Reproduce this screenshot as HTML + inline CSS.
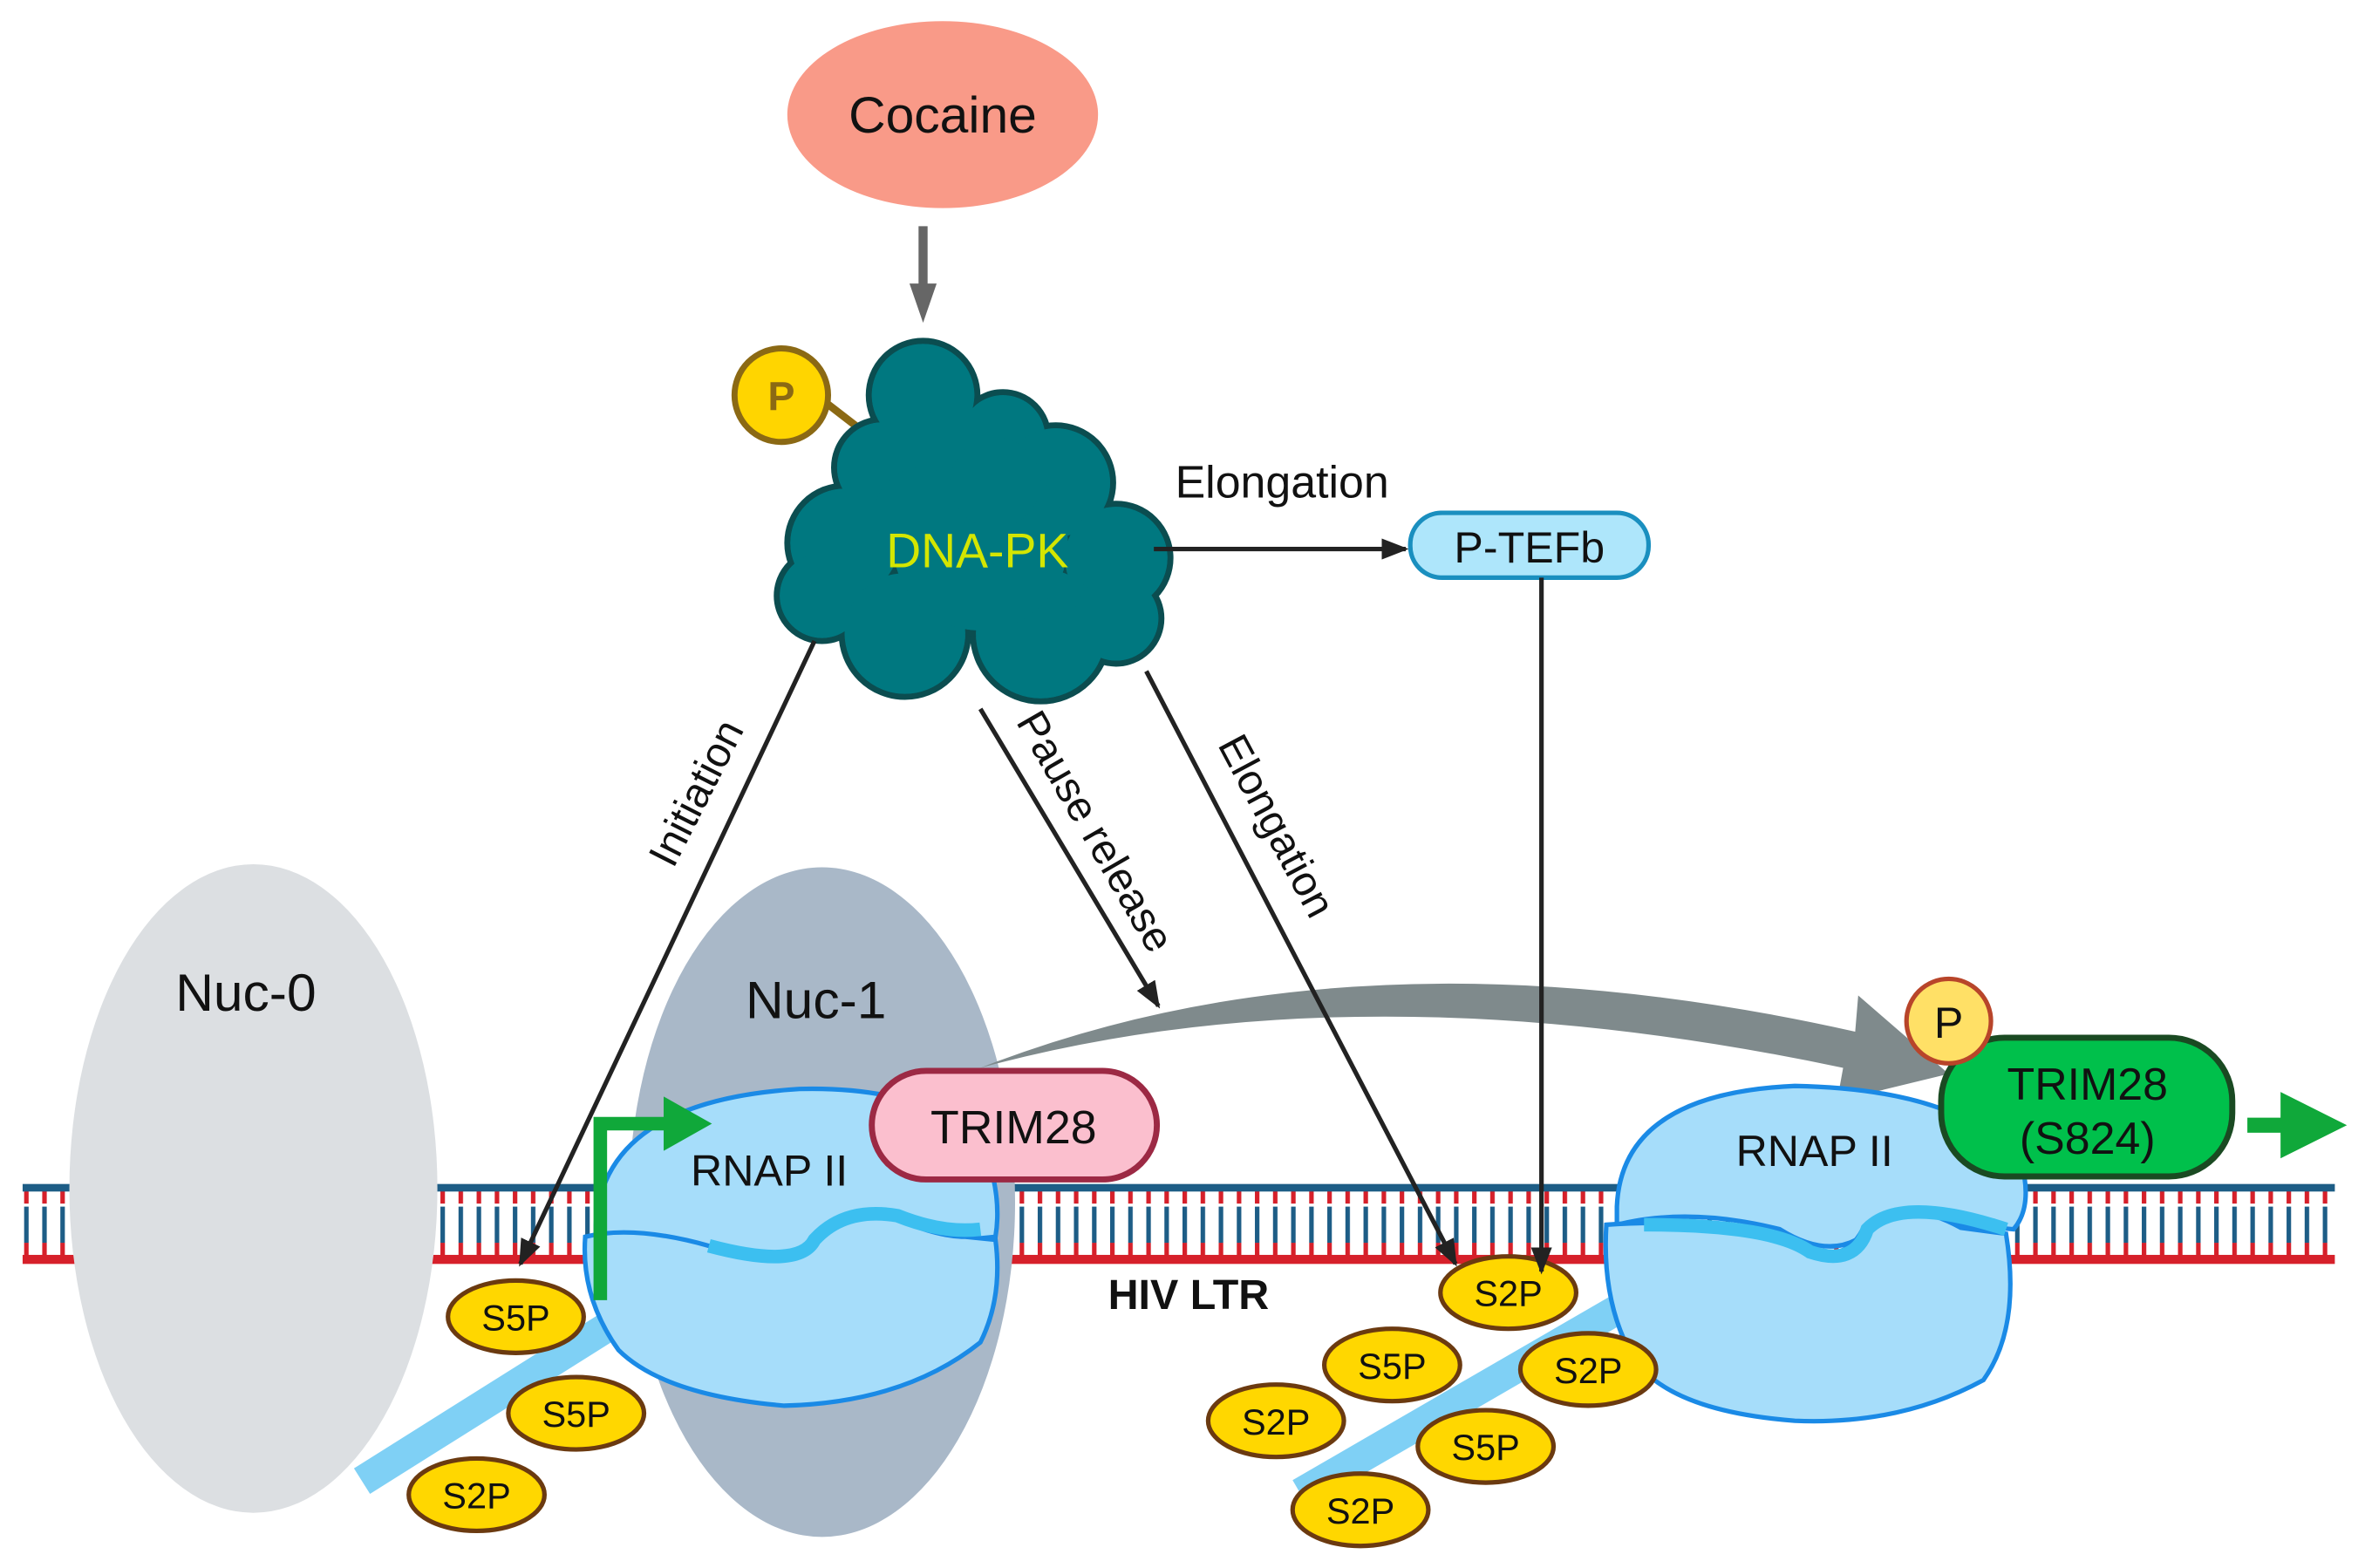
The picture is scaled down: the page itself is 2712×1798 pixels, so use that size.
<!DOCTYPE html>
<html><head><meta charset="utf-8"><style>html,body{margin:0;padding:0;background:#fff}svg{display:block}text{font-family:"Liberation Sans",sans-serif}</style></head><body>
<svg width="2712" height="1798" viewBox="0 0 1568 1039.6" preserveAspectRatio="none" xmlns="http://www.w3.org/2000/svg">
<defs>
<marker id="ah2" markerWidth="18" markerHeight="14" refX="16" refY="7" orient="auto" markerUnits="userSpaceOnUse"><path d="M0,0 L18,7 L0,14 z" fill="#222"/></marker>
<pattern id="tk" x="0" y="0" width="12" height="50" patternUnits="userSpaceOnUse"><rect x="4" y="0" width="3" height="24" fill="#1d5d86"/><rect x="4" y="24" width="3" height="24" fill="#d6202a"/></pattern>
</defs>
<ellipse cx="625" cy="76" rx="103" ry="62" fill="#f99a88"/>
<text x="625" y="88" font-size="34" text-anchor="middle" fill="#111">Cocaine</text>
<path d="M612,150 L612,190" stroke="#666" stroke-width="6"/>
<path d="M603,188 L621,188 L612,214 z" fill="#666"/>
<rect x="15" y="787" width="1533" height="48" fill="url(#tk)"/>
<rect x="15" y="785" width="1533" height="5" fill="#1d5d86"/>
<rect x="15" y="832" width="1533" height="6" fill="#d6202a"/>
<ellipse cx="168" cy="788" rx="122" ry="215" fill="#dcdfe2"/>
<text x="163" y="670" font-size="35" text-anchor="middle" fill="#111">Nuc-0</text>
<ellipse cx="545" cy="797" rx="128" ry="222" fill="#a9b8c8"/>
<text x="541" y="675" font-size="35" text-anchor="middle" fill="#111">Nuc-1</text>
<path d="M240,982 L415,872" stroke="#7fd0f5" stroke-width="20"/>
<path d="M862,990 L1090,858" stroke="#7fd0f5" stroke-width="20"/>
<path d="M650,708 Q900,610 1230,684 L1232,660 L1292,712 L1218,730 L1222,708 Q900,640 650,708 z" fill="#7f8a8c"/>
<g stroke="#1a8ae6" stroke-width="3">
<path d="M395,812 Q400,730 530,722 Q610,720 650,755 Q665,790 660,820 L600,826 Q570,808 540,826 Q520,845 470,830 Q420,818 395,830 z" fill="#a6ddfa"/>
<path d="M388,820 Q420,812 470,826 Q530,840 540,820 Q560,800 590,806 Q620,820 640,820 L660,822 Q665,860 650,890 Q600,930 520,932 Q440,925 410,895 Q385,860 388,820 z" fill="#a6ddfa"/>
<path d="M470,826 Q530,842 540,822 Q560,800 595,806 Q625,818 650,815" fill="none" stroke="#3cbff0" stroke-width="9"/>
</g>
<text x="510" y="786" font-size="29" text-anchor="middle" fill="#111">RNAP II</text>
<path d="M398,862 L398,745 L445,745" fill="none" stroke="#10a83a" stroke-width="9"/>
<path d="M440,727 L472,745 L440,763 z" fill="#10a83a"/>
<rect x="578" y="710" width="189" height="72" rx="36" fill="#fbbfce" stroke="#9c2944" stroke-width="4"/>
<text x="672" y="758" font-size="31" text-anchor="middle" fill="#111">TRIM28</text>
<g stroke="#1a8ae6" stroke-width="3">
<path d="M1072,800 Q1075,725 1190,720 Q1300,722 1340,770 Q1348,800 1335,815 L1300,812 Q1265,795 1245,810 Q1220,840 1180,815 Q1120,800 1072,812 z" fill="#a6ddfa"/>
<path d="M1065,812 Q1120,808 1180,818 Q1220,845 1235,815 Q1260,792 1300,814 L1330,818 Q1340,880 1315,915 Q1260,945 1190,942 Q1100,935 1080,895 Q1062,860 1065,812 z" fill="#a6ddfa"/>
<path d="M1090,812 Q1175,812 1200,830 Q1230,840 1238,815 Q1260,792 1330,815" fill="none" stroke="#3cbff0" stroke-width="9"/>
</g>
<text x="1203" y="773" font-size="29" text-anchor="middle" fill="#111">RNAP II</text>
<rect x="1287" y="688" width="193" height="92" rx="42" fill="#00c04b" stroke="#1a4a22" stroke-width="4"/>
<text x="1384" y="729" font-size="30" text-anchor="middle" fill="#111">TRIM28</text>
<text x="1384" y="765" font-size="30" text-anchor="middle" fill="#111">(S824)</text>
<circle cx="1292" cy="677" r="28" fill="#ffe066" stroke="#b8452a" stroke-width="3"/>
<text x="1292" y="688" font-size="29" text-anchor="middle" fill="#111">P</text>
<path d="M1490,746 L1518,746" stroke="#10a83a" stroke-width="10"/>
<path d="M1512,724 L1556,746 L1512,768 z" fill="#10a83a"/>
<text x="788" y="868" font-size="28" font-weight="bold" text-anchor="middle" fill="#111">HIV LTR</text>
<g stroke="#6b3a10" stroke-width="3" fill="#ffd700">
<ellipse cx="342" cy="873" rx="45" ry="24"/><ellipse cx="382" cy="937" rx="45" ry="24"/><ellipse cx="316" cy="991" rx="45" ry="24"/>
<ellipse cx="1000" cy="857" rx="45" ry="24"/><ellipse cx="923" cy="905" rx="45" ry="24"/><ellipse cx="1053" cy="908" rx="45" ry="24"/>
<ellipse cx="846" cy="942" rx="45" ry="24"/><ellipse cx="985" cy="959" rx="45" ry="24"/><ellipse cx="902" cy="1001" rx="45" ry="24"/>
</g>
<g font-size="24" text-anchor="middle" fill="#111">
<text x="342" y="882">S5P</text><text x="382" y="946">S5P</text><text x="316" y="1000">S2P</text>
<text x="1000" y="866">S2P</text><text x="923" y="914">S5P</text><text x="1053" y="917">S2P</text>
<text x="846" y="951">S2P</text><text x="985" y="968">S5P</text><text x="902" y="1010">S2P</text>
</g>
<line x1="545" y1="265" x2="580" y2="292" stroke="#8b6914" stroke-width="5"/>
<g fill="#007880" stroke="#0b4d50" stroke-width="4">
<circle cx="612" cy="262" r="36"/><circle cx="665" cy="290" r="30"/><circle cx="585" cy="310" r="32"/>
<circle cx="700" cy="320" r="38"/><circle cx="740" cy="370" r="36"/><circle cx="560" cy="360" r="38"/>
<circle cx="545" cy="395" r="30"/><circle cx="600" cy="420" r="42"/><circle cx="690" cy="420" r="45"/>
<circle cx="650" cy="360" r="60"/><circle cx="740" cy="410" r="30"/>
</g>
<g fill="#007880">
<circle cx="612" cy="262" r="34"/><circle cx="665" cy="290" r="28"/><circle cx="585" cy="310" r="30"/>
<circle cx="700" cy="320" r="36"/><circle cx="740" cy="370" r="34"/><circle cx="560" cy="360" r="36"/>
<circle cx="545" cy="395" r="28"/><circle cx="600" cy="420" r="40"/><circle cx="690" cy="420" r="43"/>
<circle cx="650" cy="360" r="58"/><circle cx="740" cy="410" r="28"/>
<circle cx="630" cy="300" r="30"/><circle cx="610" cy="340" r="30"/><circle cx="660" cy="320" r="30"/>
</g>
<circle cx="518" cy="262" r="31" fill="#ffd500" stroke="#8b6914" stroke-width="4"/>
<text x="518" y="272" font-size="27" font-weight="bold" text-anchor="middle" fill="#8b6914">P</text>
<text x="648" y="376" font-size="32" text-anchor="middle" fill="#d4e600">DNA-PK</text>
<text x="850" y="330" font-size="30" text-anchor="middle" fill="#111">Elongation</text>
<line x1="765" y1="364" x2="932" y2="364" stroke="#222" stroke-width="3" marker-end="url(#ah2)"/>
<rect x="935" y="340" width="158" height="43" rx="21" fill="#aee6fb" stroke="#1a8fbf" stroke-width="3"/>
<text x="1014" y="373" font-size="29" text-anchor="middle" fill="#111">P-TEFb</text>
<line x1="1022" y1="383" x2="1022" y2="843" stroke="#222" stroke-width="3" marker-end="url(#ah2)"/>
<line x1="540" y1="425" x2="345" y2="838" stroke="#222" stroke-width="3" marker-end="url(#ah2)"/>
<line x1="650" y1="470" x2="768" y2="667" stroke="#222" stroke-width="3" marker-end="url(#ah2)"/>
<line x1="760" y1="445" x2="965" y2="838" stroke="#222" stroke-width="3" marker-end="url(#ah2)"/>
<text transform="translate(470,530) rotate(-63)" font-size="28" text-anchor="middle" fill="#111">Initiation</text>
<text transform="translate(718,556) rotate(60)" font-size="28" text-anchor="middle" fill="#111">Pause release</text>
<text transform="translate(838,552) rotate(62)" font-size="28" text-anchor="middle" fill="#111">Elongation</text>
</svg>
</body></html>
